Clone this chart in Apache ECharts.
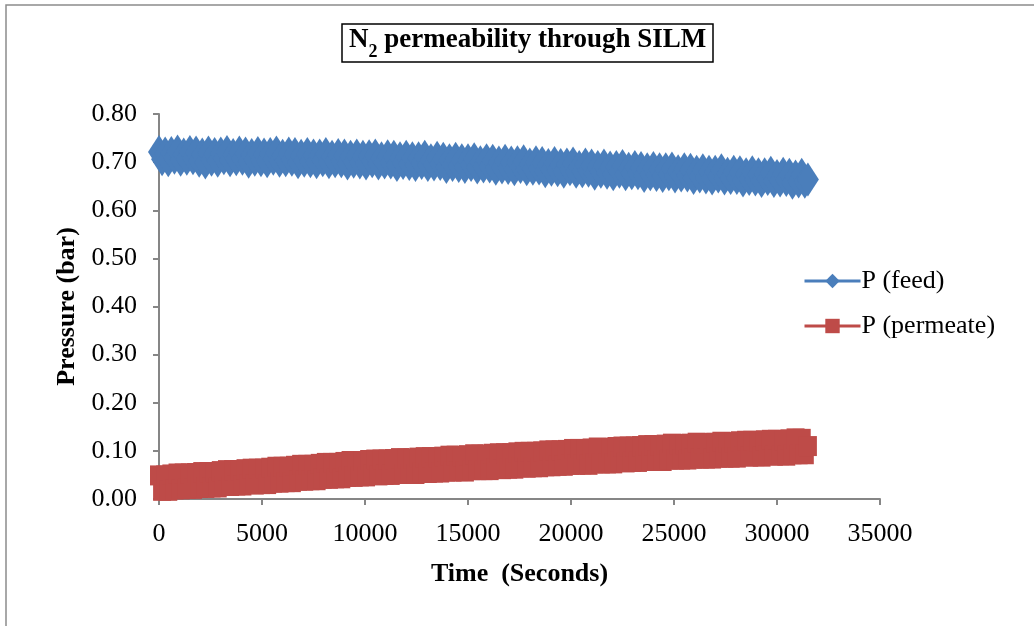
<!DOCTYPE html>
<html>
<head>
<meta charset="utf-8">
<script src="https://cdn.jsdelivr.net/npm/echarts@6/dist/echarts.min.js"></script>
<style>
html,body{margin:0;padding:0;background:#fff;}
#chart{width:1034px;height:626px;}
</style>
</head>
<body>
<div id="chart"></div>
<script>
// Time (seconds)
var times = [0,150,300,450,600,750,900,1050,1200,1350,1500,1650,1800,1950,2100,2250,2400,2550,2700,2850,
3000,3150,3300,3450,3600,3750,3900,4050,4200,4350,4500,4650,4800,4950,5100,5250,5400,5550,5700,5850,
6000,6150,6300,6450,6600,6750,6900,7050,7200,7350,7500,7650,7800,7950,8100,8250,8400,8550,8700,8850,
9000,9150,9300,9450,9600,9750,9900,10050,10200,10350,10500,10650,10800,10950,11100,11250,11400,11550,11700,11850,
12000,12150,12300,12450,12600,12750,12900,13050,13200,13350,13500,13650,13800,13950,14100,14250,14400,14550,14700,14850,
15000,15150,15300,15450,15600,15750,15900,16050,16200,16350,16500,16650,16800,16950,17100,17250,17400,17550,17700,17850,
18000,18150,18300,18450,18600,18750,18900,19050,19200,19350,19500,19650,19800,19950,20100,20250,20400,20550,20700,20850,
21000,21150,21300,21450,21600,21750,21900,22050,22200,22350,22500,22650,22800,22950,23100,23250,23400,23550,23700,23850,
24000,24150,24300,24450,24600,24750,24900,25050,25200,25350,25500,25650,25800,25950,26100,26250,26400,26550,26700,26850,
27000,27150,27300,27450,27600,27750,27900,28050,28200,28350,28500,28650,28800,28950,29100,29250,29400,29550,29700,29850,
30000,30150,30300,30450,30600,30750,30900,31050,31200,31350,31500];
// P (feed), bar
var feed = [0.721,0.706,0.718,0.704,0.719,0.709,0.722,0.705,0.716,0.707,0.721,0.708,0.720,0.703,0.716,0.699,0.720,0.705,0.717,0.703,
0.718,0.708,0.721,0.704,0.715,0.706,0.720,0.707,0.718,0.701,0.715,0.705,0.719,0.704,0.716,0.702,0.717,0.707,0.720,0.703,
0.713,0.704,0.718,0.705,0.717,0.700,0.713,0.703,0.717,0.702,0.714,0.700,0.714,0.704,0.717,0.700,0.711,0.702,0.715,0.702,
0.714,0.697,0.711,0.701,0.714,0.699,0.711,0.697,0.712,0.702,0.714,0.697,0.708,0.699,0.712,0.699,0.711,0.694,0.708,0.698,
0.711,0.696,0.708,0.694,0.708,0.698,0.711,0.694,0.704,0.695,0.709,0.696,0.707,0.690,0.704,0.694,0.707,0.692,0.704,0.690,
0.704,0.694,0.706,0.689,0.700,0.691,0.704,0.691,0.703,0.686,0.699,0.689,0.703,0.688,0.699,0.685,0.700,0.690,0.702,0.685,
0.695,0.686,0.700,0.687,0.698,0.681,0.694,0.684,0.698,0.683,0.694,0.680,0.695,0.685,0.697,0.680,0.690,0.681,0.695,0.682,
0.693,0.676,0.690,0.680,0.693,0.678,0.689,0.675,0.690,0.680,0.692,0.675,0.686,0.677,0.690,0.677,0.688,0.671,0.685,0.675,
0.688,0.673,0.685,0.671,0.685,0.675,0.687,0.670,0.681,0.672,0.685,0.672,0.684,0.667,0.680,0.670,0.683,0.668,0.680,0.666,
0.680,0.670,0.683,0.666,0.676,0.667,0.680,0.667,0.679,0.662,0.675,0.665,0.679,0.664,0.675,0.661,0.675,0.665,0.678,0.661,
0.671,0.662,0.676,0.663,0.674,0.657,0.670,0.660,0.674,0.659,0.664];
// P (permeate), bar
var permeate = [0.049,0.017,0.049,0.017,0.051,0.020,0.053,0.020,0.053,0.021,0.053,0.021,0.054,0.023,0.056,0.023,0.056,0.024,0.056,0.024,
0.058,0.027,0.060,0.027,0.060,0.028,0.060,0.028,0.062,0.031,0.063,0.030,0.063,0.031,0.063,0.031,0.065,0.034,0.067,0.034,
0.067,0.035,0.067,0.035,0.069,0.038,0.071,0.038,0.071,0.039,0.071,0.039,0.073,0.042,0.075,0.042,0.075,0.043,0.075,0.043,
0.077,0.046,0.079,0.046,0.079,0.047,0.079,0.047,0.081,0.050,0.082,0.049,0.082,0.050,0.082,0.050,0.083,0.052,0.085,0.052,
0.084,0.052,0.084,0.052,0.086,0.055,0.087,0.054,0.087,0.055,0.087,0.055,0.088,0.057,0.090,0.057,0.090,0.058,0.089,0.057,
0.091,0.060,0.093,0.060,0.092,0.060,0.092,0.060,0.094,0.063,0.095,0.062,0.095,0.063,0.095,0.063,0.097,0.066,0.098,0.065,
0.098,0.066,0.098,0.066,0.099,0.068,0.101,0.068,0.101,0.069,0.101,0.069,0.102,0.071,0.104,0.071,0.104,0.072,0.103,0.071,
0.105,0.074,0.107,0.074,0.106,0.074,0.106,0.074,0.108,0.077,0.109,0.076,0.109,0.077,0.109,0.077,0.110,0.079,0.112,0.079,
0.112,0.080,0.111,0.079,0.113,0.082,0.115,0.082,0.114,0.082,0.114,0.082,0.115,0.084,0.117,0.084,0.116,0.084,0.116,0.084,
0.117,0.086,0.119,0.086,0.118,0.086,0.118,0.086,0.120,0.089,0.121,0.088,0.121,0.089,0.120,0.088,0.122,0.091,0.123,0.090,
0.123,0.091,0.122,0.090,0.124,0.093,0.126,0.093,0.125,0.093,0.110];
var yTicks = ['0.00','0.10','0.20','0.30','0.40','0.50','0.60','0.70','0.80'];
var xTicks = ['0','5000','10000','15000','20000','25000','30000','35000'];

function pairs(xs, ys){ var out=[]; for(var i=0;i<xs.length;i++){ out.push([xs[i], ys[i]]); } return out; }

var FONT = '"Liberation Serif","Times New Roman",serif';
var chart = echarts.init(document.getElementById('chart'));
chart.setOption({
  animation: false,
  backgroundColor: '#ffffff',
  graphic: [{
    type: 'rect', silent: true,
    shape: {x: 6, y: 5, width: 1040, height: 640},
    style: {fill: 'none', stroke: '#8c8c8c', lineWidth: 1.5}
  }],
  title: {
    text: '{a|N}{s|2}{a| permeability through SILM}',
    left: 342, top: 20,
    padding: [3, 7, 1, 7],
    borderColor: '#000', borderWidth: 1.5,
    textStyle: {
      rich: {
        a: {fontFamily: FONT, fontWeight: 'bold', fontSize: 27, color: '#000', verticalAlign: 'bottom', lineHeight: 31},
        s: {fontFamily: FONT, fontWeight: 'bold', fontSize: 18, color: '#000', verticalAlign: 'bottom', lineHeight: 22, padding: [0,0,-7,0]}
      }
    }
  },
  legend: {
    orient: 'vertical', left: 798, top: 263, itemGap: 19,
    itemWidth: 56, itemHeight: 18,
    lineStyle: {width: 3},
    textStyle: {fontFamily: FONT, fontSize: 26, color: '#000', padding: [0,0,0,-4]},
    data: ['P (feed)', 'P (permeate)']
  },
  grid: {left: 159, right: 154, top: 114, bottom: 127, containLabel: false},
  xAxis: {
    type: 'value', min: 0, max: 35000, interval: 5000,
    name: 'Time  (Seconds)', nameLocation: 'middle', nameGap: 62,
    nameTextStyle: {fontFamily: FONT, fontWeight: 'bold', fontSize: 26, color: '#000'},
    axisLine: {show: true, onZero: false, lineStyle: {color: '#868686', width: 2}},
    axisTick: {show: true, length: 6, lineStyle: {color: '#868686', width: 2}},
    axisLabel: {fontFamily: FONT, fontSize: 26, color: '#000', margin: 22,
      formatter: function(v){ var i = Math.round(v/5000); return xTicks[i] !== undefined ? xTicks[i] : ''; }},
    splitLine: {show: false}
  },
  yAxis: {
    type: 'value', min: 0, max: 0.8, interval: 0.1,
    name: 'Pressure (bar)', nameLocation: 'middle', nameGap: 76,
    nameTextStyle: {fontFamily: FONT, fontWeight: 'bold', fontSize: 26, color: '#000'},
    axisLine: {show: true, lineStyle: {color: '#868686', width: 2}},
    axisTick: {show: true, length: 6, lineStyle: {color: '#868686', width: 2}},
    axisLabel: {fontFamily: FONT, fontSize: 26, color: '#000', margin: 22,
      formatter: function(v){ var i = Math.round(v*10); return yTicks[i] !== undefined ? yTicks[i] : ''; }},
    splitLine: {show: false}
  },
  series: [{
    name: 'P (feed)', type: 'line', data: pairs(times, feed),
    symbol: 'diamond', symbolSize: [22, 34], showAllSymbol: true,
    itemStyle: {color: '#4a7ebb'},
    lineStyle: {color: '#4a7ebb', width: 5}
  }, {
    name: 'P (permeate)', type: 'line', data: pairs(times, permeate),
    symbol: 'rect', symbolSize: [18, 20], showAllSymbol: true,
    itemStyle: {color: '#be4b48'},
    lineStyle: {color: '#be4b48', width: 5}
  }]
});
</script>
</body>
</html>
